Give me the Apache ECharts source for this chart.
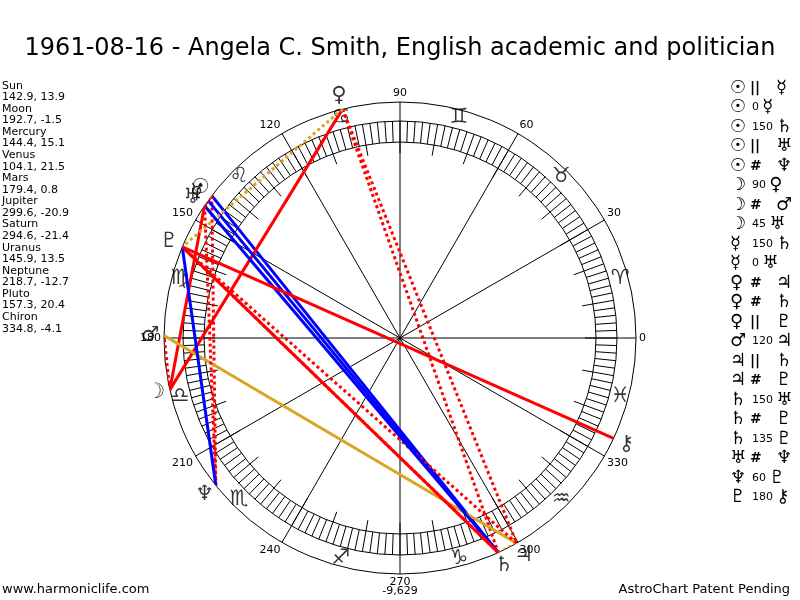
<!DOCTYPE html>
<html>
<head>
<meta charset="utf-8">
<title>1961-08-16 - Angela C. Smith</title>
<script src="https://cdn.jsdelivr.net/npm/echarts@6/dist/echarts.min.js"></script>
<style>
    html, body { margin: 0; padding: 0; background: #fff; }
    #chart { width: 800px; height: 600px; }
</style>
</head>
<body>
<div id="chart"></div>
<script>
(function () {
    'use strict';

    var chartTitle = '1961-08-16 - Angela C. Smith, English academic and politician';

    // planets: longitude, declination
    var planetNames = ['Sun', 'Moon', 'Mercury', 'Venus', 'Mars', 'Jupiter', 'Saturn', 'Uranus', 'Neptune', 'Pluto', 'Chiron'];
    var planetGlyphs = ['☉', '☽', '☿', '♀', '♂', '♃', '♄', '♅', '♆', '♇', '⚷'];
    var longitudes = [142.9, 192.7, 144.4, 104.1, 179.4, 299.6, 294.6, 145.9, 218.7, 157.3, 334.8];
    var declinations = [13.9, -1.5, 15.1, 21.5, 0.8, -20.9, -21.4, 13.5, -12.7, 20.4, -4.1];

    // zodiac signs, glyph placed at the middle of each sign
    var signGlyphs = ['♈', '♉', '♊', '♋', '♌', '♍', '♎', '♏', '♐', '♑', '♒', '♓'];
    var signMiddles = [15, 45, 75, 105, 135, 165, 195, 225, 255, 285, 315, 345];

    // aspect list (same order as the table on the right)
    var aspectFrom = ['Sun', 'Sun', 'Sun', 'Sun', 'Sun', 'Moon', 'Moon', 'Moon', 'Mercury', 'Mercury', 'Venus',
        'Venus', 'Venus', 'Mars', 'Jupiter', 'Jupiter', 'Saturn', 'Saturn', 'Saturn', 'Uranus', 'Neptune', 'Pluto'];
    var aspectKind = ['||', '0', '150', '||', '#', '90', '#', '45', '150', '0', '#',
        '#', '||', '120', '||', '#', '150', '#', '135', '#', '60', '180'];
    var aspectTo = ['Mercury', 'Mercury', 'Saturn', 'Uranus', 'Neptune', 'Venus', 'Mars', 'Uranus', 'Saturn', 'Uranus', 'Jupiter',
        'Saturn', 'Pluto', 'Jupiter', 'Saturn', 'Pluto', 'Uranus', 'Pluto', 'Pluto', 'Neptune', 'Pluto', 'Chiron'];

    var centerNote = '-9,629';
    var footerLeft = 'www.harmoniclife.com';
    var footerRight = 'AstroChart Patent Pending';

    var FONT = 'DejaVu Sans';
    var RED = '#ff0000', BLUE = '#0000ff', GOLD = '#daa520';
    var CX = 400, CY = 338;

    function aspectStyle(kind) {
        if (kind === '||') return { color: GOLD, type: [3, 3] };
        if (kind === '#') return { color: RED, type: [3, 3] };
        if (kind === '60' || kind === '150') return { color: BLUE, type: 'solid' };
        if (kind === '120') return { color: GOLD, type: 'solid' };
        return { color: RED, type: 'solid' };
    }

    function glyphOf(name) {
        return planetGlyphs[planetNames.indexOf(name)];
    }

    function hiddenRadius(idx) {
        return {
            polarIndex: idx, type: 'value', min: 0, max: 1,
            axisLine: { show: false }, axisTick: { show: false },
            axisLabel: { show: false }, splitLine: { show: false }
        };
    }

    var lineColor = { color: '#000', width: 1 };

    var series = [];

    // zodiac glyphs
    series.push({
        type: 'scatter', coordinateSystem: 'polar', polarIndex: 0,
        clip: false, silent: true, animation: false,
        symbolSize: 1, itemStyle: { color: 'rgba(0,0,0,0)' },
        data: signGlyphs.map(function (g, i) {
            return { name: g, value: [0.966, signMiddles[i]] };
        }),
        label: { show: true, position: 'inside', formatter: '{b}', fontSize: 21, fontFamily: FONT, color: '#000' }
    });

    // aspect lines between planet positions on the outer circle
    aspectFrom.forEach(function (from, i) {
        var a = planetNames.indexOf(from);
        var b = planetNames.indexOf(aspectTo[i]);
        var st = aspectStyle(aspectKind[i]);
        series.push({
            type: 'line', coordinateSystem: 'polar', polarIndex: 0,
            clip: false, silent: true, animation: false,
            symbol: 'none',
            data: [[1, longitudes[a]], [1, longitudes[b]]],
            lineStyle: { color: st.color, width: 3, type: st.type, cap: 'butt' }
        });
    });

    // planet glyphs
    series.push({
        type: 'scatter', coordinateSystem: 'polar', polarIndex: 0,
        clip: false, silent: true, animation: false,
        symbolSize: 1, itemStyle: { color: 'rgba(0,0,0,0)' },
        data: planetGlyphs.map(function (g, i) {
            return { name: g, value: [1.06, longitudes[i]] };
        }),
        label: { show: true, position: 'inside', formatter: '{b}', fontSize: 21, fontWeight: 'bold', fontFamily: FONT, color: '#000' }
    });

    // left column: positions
    var posLines = [];
    planetNames.forEach(function (name, i) {
        posLines.push(name);
        posLines.push(longitudes[i].toFixed(1) + ', ' + declinations[i].toFixed(1));
    });

    var graphics = [{
        type: 'text', x: 2, y: 80, silent: true,
        style: { text: posLines.join('\n'), font: '11px ' + FONT, lineHeight: 11.57, fill: '#000' }
    }];

    // right column: aspect table
    aspectFrom.forEach(function (from, i) {
        var y = 88 + i * 19.5;
        var kind = aspectKind[i];
        graphics.push({
            type: 'text', x: 730, y: y, silent: true,
            style: { text: glyphOf(from), font: 'bold 18px ' + FONT, fill: '#000', verticalAlign: 'middle' }
        });
        if (kind === '||' || kind === '#') {
            graphics.push({
                type: 'text', x: 750, y: y, silent: true,
                style: { text: kind, font: 'bold 14px ' + FONT, fill: '#000', verticalAlign: 'middle' }
            });
            graphics.push({
                type: 'text', x: 776, y: y, silent: true,
                style: { text: glyphOf(aspectTo[i]), font: 'bold 18px ' + FONT, fill: '#000', verticalAlign: 'middle' }
            });
        } else {
            graphics.push({
                type: 'text', x: 752, y: y, silent: true,
                style: {
                    text: '{n|' + kind + '} {g|' + glyphOf(aspectTo[i]) + '}',
                    verticalAlign: 'middle', fill: '#000',
                    rich: {
                        n: { font: '11px ' + FONT, fill: '#000' },
                        g: { font: 'bold 18px ' + FONT, fill: '#000' }
                    }
                }
            });
        }
    });

    graphics.push({
        type: 'text', x: CX, y: 591, silent: true,
        style: { text: centerNote, font: '11px ' + FONT, fill: '#000', align: 'center', verticalAlign: 'middle' }
    });
    graphics.push({
        type: 'text', x: 2, y: 590, silent: true,
        style: { text: footerLeft, font: '13px ' + FONT, fill: '#000', verticalAlign: 'middle' }
    });
    graphics.push({
        type: 'text', x: 790, y: 590, silent: true,
        style: { text: footerRight, font: '13px ' + FONT, fill: '#000', align: 'right', verticalAlign: 'middle' }
    });

    var chart = echarts.init(document.getElementById('chart'), null, { renderer: 'canvas' });

    chart.setOption({
        animation: false,
        backgroundColor: '#fff',
        title: {
            text: chartTitle, left: 'center', top: 32,
            textStyle: { fontFamily: FONT, fontSize: 24, fontWeight: 'normal', color: '#000' }
        },
        polar: [
            { center: [CX, CY], radius: 236 },
            { center: [CX, CY], radius: 217 },
            { center: [CX, CY], radius: 196 }
        ],
        angleAxis: [{
            polarIndex: 0, type: 'value', min: 0, max: 360, interval: 30,
            startAngle: 0, clockwise: false,
            axisLine: { show: true, lineStyle: lineColor },
            axisTick: { show: false },
            splitLine: { show: true, lineStyle: lineColor },
            axisLabel: { show: true, margin: 3, fontSize: 11, fontFamily: FONT, color: '#000' }
        }, {
            polarIndex: 1, type: 'value', min: 0, max: 360, interval: 10,
            startAngle: 0, clockwise: false,
            axisLine: { show: true, lineStyle: lineColor },
            axisTick: { show: true, inside: true, length: 32, lineStyle: lineColor },
            minorTick: { show: true, splitNumber: 5, length: 21, lineStyle: lineColor },
            splitLine: { show: false },
            axisLabel: { show: false }
        }, {
            polarIndex: 2, type: 'value', min: 0, max: 360, interval: 30,
            startAngle: 0, clockwise: false,
            axisLine: { show: true, lineStyle: lineColor },
            axisTick: { show: false },
            splitLine: { show: false },
            axisLabel: { show: false }
        }],
        radiusAxis: [hiddenRadius(0), hiddenRadius(1), hiddenRadius(2)],
        graphic: graphics,
        series: series
    });
})();
</script>
</body>
</html>
